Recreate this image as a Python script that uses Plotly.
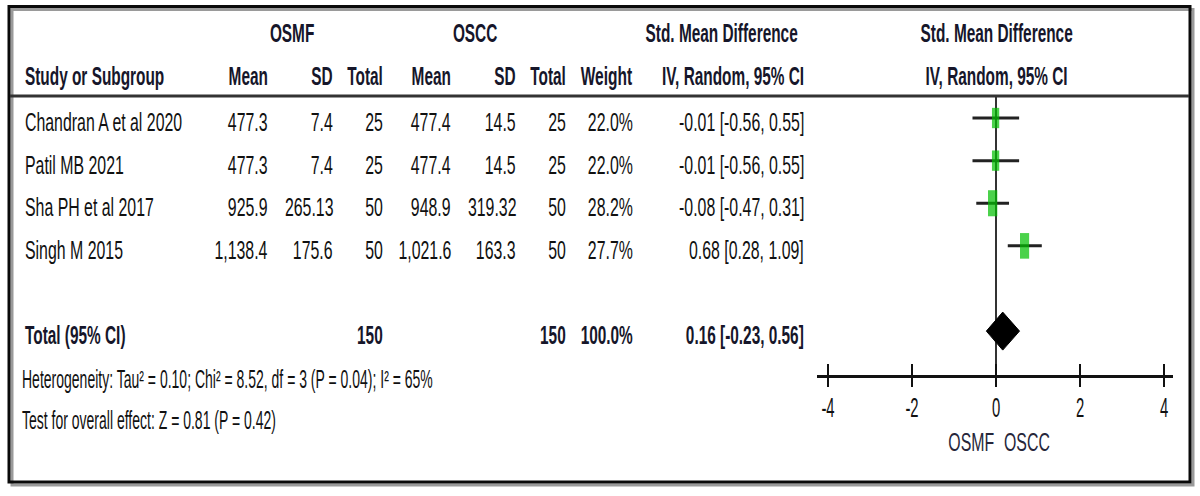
import plotly.graph_objects as go

# ---------------- data ----------------
studies = ["Chandran A et al 2020", "Patil MB 2021", "Sha PH et al 2017", "Singh M 2015"]
osmf_mean = [477.3, 477.3, 925.9, 1138.4]
osmf_sd = [7.4, 7.4, 265.13, 175.6]
osmf_n = [25, 25, 50, 50]
oscc_mean = [477.4, 477.4, 948.9, 1021.6]
oscc_sd = [14.5, 14.5, 319.32, 163.3]
oscc_n = [25, 25, 50, 50]
weight = [22.0, 22.0, 28.2, 27.7]
smd = [-0.01, -0.01, -0.08, 0.68]
ci_lo = [-0.56, -0.56, -0.47, 0.28]
ci_hi = [0.55, 0.55, 0.31, 1.09]

total_label = "Total (95% CI)"
total_osmf_n = 150
total_oscc_n = 150
total_weight = 100.0
total_smd = 0.16
total_lo = -0.23
total_hi = 0.56

heterogeneity = "Heterogeneity: Tau² = 0.10; Chi² = 8.52, df = 3 (P = 0.04); I² = 65%"
overall = "Test for overall effect: Z = 0.81 (P = 0.42)"

tick_vals = [-4, -2, 0, 2, 4]
tick_text = ["-4", "-2", "0", "2", "4"]
favours_left = "OSMF"
favours_right = "OSCC"

# ---------------- layout constants ----------------
W, H = 1200, 496
FONT = "Liberation Sans, Arial, sans-serif"
TXT = "#111111"
HDR = "#16162a"
FS = 25
SQ_DATA, SQ_HDR, SQ_FOOT, SQ_TICK = 0.635, 0.615, 0.56, 0.55

rows = list(range(len(studies)))
total_row = 5
y_range = [6.03, -0.493]


def px(x):
    return x / W


def py(y):
    return 1 - y / H


fig = go.Figure()

# CI lines (error bars) behind the study boxes
fig.add_trace(go.Scatter(
    x=smd, y=rows, mode="markers",
    marker=dict(size=1, color="rgba(0,0,0,0)"),
    error_x=dict(type="data", symmetric=False,
                 array=[h - m for h, m in zip(ci_hi, smd)],
                 arrayminus=[m - l for m, l in zip(smd, ci_lo)],
                 thickness=3, width=0, color="#222222"),
    hoverinfo="skip", showlegend=False, cliponaxis=False))
fig.add_trace(go.Scatter(
    x=smd, y=rows, mode="markers",
    marker=dict(symbol="line-ns", size=[w * 0.66 for w in weight],
                line=dict(width=[w * 0.33 for w in weight], color="#00c000")),
    hoverinfo="skip", showlegend=False, cliponaxis=False))

# pooled diamond
dh = 0.446
fig.add_trace(go.Scatter(
    x=[total_lo, total_smd, total_hi, total_smd, total_lo],
    y=[total_row, total_row - dh, total_row, total_row + dh, total_row],
    mode="lines", fill="toself", fillcolor="black",
    line=dict(color="black", width=1), hoverinfo="skip",
    showlegend=False, cliponaxis=False))

# dummy trace for the inside-tick overlay axis
fig.add_trace(go.Scatter(x=[0], y=[total_row], xaxis="x2", mode="markers",
                         marker=dict(opacity=0), hoverinfo="skip", showlegend=False))

x_range = [-4.262, 4.214]
x_domain = [px(817), px(1173)]
y_domain = [py(375), py(97)]

fig.update_layout(
    width=W, height=H, margin=dict(l=0, r=0, t=0, b=0),
    paper_bgcolor="white", plot_bgcolor="rgba(0,0,0,0)",
    font=dict(family=FONT, size=FS, color=TXT),
    xaxis=dict(domain=x_domain, range=x_range, showgrid=False,
               zeroline=True, zerolinecolor="#333333", zerolinewidth=1.5,
               showline=True, linecolor="#111111", linewidth=3,
               ticks="outside", ticklen=9, tickwidth=2, tickcolor="#111111",
               tickvals=tick_vals, ticktext=tick_text,
               tickfont=dict(family=FONT, size=27, color=TXT), ticklabelstandoff=-2,
               fixedrange=True),
    xaxis2=dict(domain=x_domain, range=x_range, overlaying="x", anchor="y",
                showgrid=False, zeroline=False, showline=False,
                ticks="inside", ticklen=11, tickwidth=2, tickcolor="#111111",
                tickvals=tick_vals, showticklabels=False, fixedrange=True),
    yaxis=dict(domain=y_domain, range=y_range, visible=False, fixedrange=True),
)

ann = []


def add(text, xr, y, anchor="right", bold=False, size=FS, color=TXT,
        yref="y", yshift=-4, sq=SQ_DATA):
    t = f"<b>{text}</b>" if bold else text
    xx = xr + (3 if anchor == "right" else (-2 if anchor == "left" else 0))
    ann.append(dict(text=t, x=px(xx), xref="paper", y=y, yref=yref,
                    xanchor=anchor, align=anchor, yanchor="middle", showarrow=False,
                    yshift=yshift, name=f"sq{sq}",
                    font=dict(family=FONT, size=size, color=color)))


def addp(text, xr, ypx, **kw):
    add(text, xr, py(ypx), yref="paper", yshift=0, **kw)


# header (cap centres at px rows)
H1, H2 = 32.5, 76
for label, xr in [("OSMF", 292), ("OSCC", 475), ("Std. Mean Difference", 721),
                  ("Std. Mean Difference", 996)]:
    addp(label, xr, H1, anchor="center", bold=True, color=HDR, sq=SQ_HDR)
addp("Study or Subgroup", 25, H2, anchor="left", bold=True, color=HDR, sq=SQ_HDR)
for label, xr in [("Mean", 267), ("SD", 332), ("Total", 382), ("Mean", 450),
                  ("SD", 515), ("Total", 565), ("Weight", 632),
                  ("IV, Random, 95% CI", 803)]:
    addp(label, xr, H2, bold=True, color=HDR, sq=SQ_HDR)
addp("IV, Random, 95% CI", 996, H2, anchor="center", bold=True, color=HDR, sq=SQ_HDR)

# study rows
for i, r in enumerate(rows):
    add(studies[i], 25, r, anchor="left")
    add(format(osmf_mean[i], ","), 267, r)
    add(format(osmf_sd[i], ","), 332, r)
    add(str(osmf_n[i]), 382, r)
    add(format(oscc_mean[i], ","), 450, r)
    add(format(oscc_sd[i], ","), 515, r)
    add(str(oscc_n[i]), 565, r)
    add(f"{weight[i]:.1f}%", 632, r)
    add(f"{smd[i]:.2f} [{ci_lo[i]:.2f}, {ci_hi[i]:.2f}]", 803, r)

# total row
add(total_label, 25, total_row, anchor="left", bold=True, color=HDR, sq=SQ_HDR)
add(str(total_osmf_n), 382, total_row, bold=True, color=HDR, sq=SQ_HDR)
add(str(total_oscc_n), 565, total_row, bold=True, color=HDR, sq=SQ_HDR)
add(f"{total_weight:.1f}%", 632, total_row, bold=True, color=HDR, sq=SQ_HDR)
add(f"{total_smd:.2f} [{total_lo:.2f}, {total_hi:.2f}]", 803, total_row,
    bold=True, color=HDR, sq=SQ_HDR)

# footnotes and favours labels
addp(heterogeneity, 22, 379, anchor="left", sq=SQ_FOOT)
addp(overall, 22, 420, anchor="left", sq=SQ_FOOT)
addp(favours_left, 993, 442, anchor="right", color="#26263a")
addp(favours_right, 1004, 442, anchor="left", color="#26263a")

fig.update_layout(annotations=ann)

# header rule and outer frame
shapes = [
    dict(type="rect", xref="paper", yref="paper", x0=px(12), x1=px(1193),
         y0=py(9.5), y1=py(485), line=dict(color="#9a9a9a", width=3)),
    dict(type="rect", xref="paper", yref="paper", x0=px(9), x1=px(1190),
         y0=py(6.5), y1=py(482), line=dict(color="#0a0a0a", width=3),
         fillcolor="rgba(0,0,0,0)"),
    dict(type="line", xref="paper", yref="paper", x0=px(10), x1=px(1189),
         y0=py(96), y1=py(96), line=dict(color="#333333", width=3)),
]
fig.update_layout(shapes=shapes)

post = """
document.body.style.margin = '0';
document.body.style.overflow = 'hidden';
var gd = document.getElementById('{plot_id}');
function squeezeText(t, f, anchor, rect) {
  if (!t || t.getAttribute('data-sq')) return;
  var b0 = t.getBBox();
  if (!b0.width) return;
  t.setAttribute('textLength', (b0.width * f).toFixed(2));
  t.setAttribute('lengthAdjust', 'spacingAndGlyphs');
  var b1 = t.getBBox();
  var dx;
  if (anchor === 'left') dx = b0.x - b1.x;
  else if (anchor === 'right') dx = (b0.x + b0.width) - (b1.x + b1.width);
  else dx = (b0.x + b0.width / 2) - (b1.x + b1.width / 2);
  if (Math.abs(dx) > 0.2) {
    var tr = t.getAttribute('transform') || '';
    t.setAttribute('transform', tr + ' translate(' + dx.toFixed(2) + ',0)');
  }
  if (rect) {
    var rx = parseFloat(rect.getAttribute('x')) || 0;
    var rw = parseFloat(rect.getAttribute('width')) || 0;
    var nw = Math.max(1, rw - (b0.width - b1.width));
    var nx = rx;
    if (anchor === 'right') nx = rx + (rw - nw);
    else if (anchor !== 'left') nx = rx + (rw - nw) / 2;
    rect.setAttribute('x', nx.toFixed(2));
    rect.setAttribute('width', nw.toFixed(2));
  }
  t.setAttribute('data-sq', '1');
}
function squeezeAll() {
  var anns = (gd.layout && gd.layout.annotations) || [];
  gd.querySelectorAll('g.annotation').forEach(function (g) {
    var idx = +g.getAttribute('data-index');
    var a = anns[idx] || {};
    var f = parseFloat(String(a.name || 'sq1').slice(2)) || 1;
    squeezeText(g.querySelector('text.annotation-text'), f, a.xanchor,
                g.querySelector('rect.bg'));
  });
  gd.querySelectorAll('g.xtick text').forEach(function (t) {
    squeezeText(t, %s, 'center', null);
  });
}
squeezeAll();
gd.on('plotly_afterplot', squeezeAll);
""" % SQ_TICK

fig.write_html("out.html", config={"displayModeBar": False}, post_script=post)
